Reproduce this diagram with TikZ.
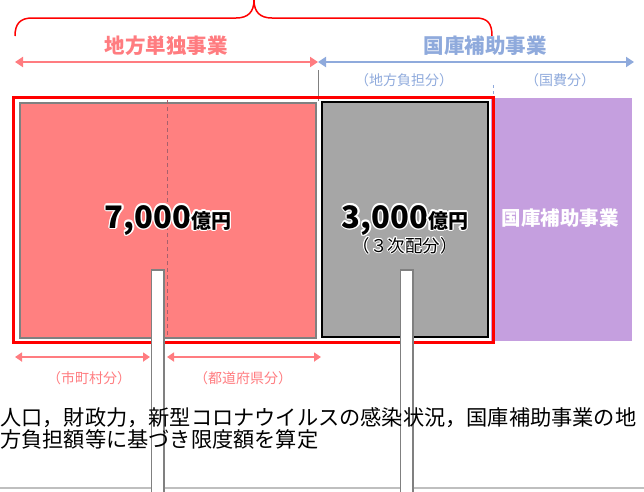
\documentclass[tikz,border=0pt]{standalone}
\usepackage{fontspec}
\setmainfont{Noto Sans CJK JP}
\usepackage{contour}
\contourlength{1.4pt}
\contournumber{12}
\usetikzlibrary{arrows.meta}
\definecolor{tanpink}{HTML}{FF7C80}
\definecolor{hojoblue}{HTML}{8FAADC}
\definecolor{boxpink}{HTML}{FF8080}
\definecolor{boxgray}{HTML}{A6A6A6}
\definecolor{boxpurple}{HTML}{C59FDF}
\definecolor{dashpink}{HTML}{A8606C}
\tikzset{
    dbl/.style = {{Triangle[width=10pt,length=8pt]}-{Triangle[width=10pt,length=8pt]}, line width=2pt},
    dbls/.style = {{Triangle[width=9pt,length=7pt]}-{Triangle[width=9pt,length=7pt]}, line width=1.8pt},
    titlelbl/.style = {font=\fontsize{20.5}{22}\selectfont\bfseries},
    sublbl/.style = {font=\fontsize{14}{15}\selectfont},
    whitebar/.style = {draw=gray, fill=white, line width=1.5pt},
    brace/.style = {draw=red, line width=1.5pt},
}
\newcommand{\bignum}[2]{\contour{white}{\fontsize{31}{33}\selectfont\bfseries #1}\contour{white}{\fontsize{20}{22}\selectfont\bfseries #2}}

\begin{document}
\begin{tikzpicture}[x=1pt,y=-1pt]
  \useasboundingbox (0,0) rectangle (644,491);

  % brace over the whole frame
  \draw[brace] (15,36) .. controls (15,24) and (20,18) .. (32,18) -- (236,18)
     .. controls (248,18) and (254,12) .. (254,0)
     .. controls (254,12) and (260,18) .. (272,18) -- (476,18)
     .. controls (488,18) and (492,24) .. (492,36);

  % headings
  \node[titlelbl, text=tanpink] (tan) at (166,46) {地方単独事業};
  \node[titlelbl, text=hojoblue] (hojo) at (485,46) {国庫補助事業};
  \coordinate (tanL) at (15,62);
  \coordinate (split) at (318,62);
  \coordinate (hojoR) at (634,62);
  \draw[dbl, tanpink] (tanL) -- (split);
  \draw[dbl, hojoblue] (split) -- (hojoR);
  \node[sublbl, text=hojoblue] (chiho) at (404,80) {（地方負担分）};
  \node[sublbl, text=hojoblue] (kokuhi) at (560,80) {（国費分）};

  % dividers
  \coordinate (divT) at (318,70);
  \coordinate (divB) at (318,101);
  \draw[gray, line width=1pt] (divT) -- (divB);
  \coordinate (tickT) at (493,85);
  \coordinate (tickB) at (493,97);
  \draw[hojoblue, line width=1pt, dashed] (tickT) -- (tickB);

  % boxes
  \fill[boxpurple] (491,98) rectangle (632,341);
  \draw[fill=boxpink, draw=gray, line width=2pt] (20,103) rectangle (316,338);
  \draw[dashpink, line width=1pt, dash pattern=on 4pt off 3pt] (167,100) -- (167,338);
  \draw[fill=boxgray, draw=black, line width=1.5pt] (322,102) rectangle (488,337);
  \draw[red, line width=3pt] (13.5,97.5) rectangle (493,342.5);

  \node[text=white, font=\fontsize{19.5}{22}\selectfont\bfseries] (purple) at (560,218) {国庫補助事業};

  % bottom rule and bars
  \draw[gray!50, line width=1.5pt] (0,488) -- (644,488);
  \draw[whitebar] (151.5,270) rectangle (164,495);
  \draw[whitebar] (400.5,270) rectangle (413,495);

  % amounts
  \node[anchor=base] (sum7) at (168,228) {\bignum{7,000}{億円}};
  \node[anchor=base] (sum3) at (405,228) {\bignum{3,000}{億円}};
  \node[font=\fontsize{17.5}{19}\selectfont] (haibun) at (405,246) {\contourlength{0.8pt}\contour{white}{（３次配分）}};

  % municipal / prefectural split
  \coordinate (shiL) at (15,357);
  \coordinate (shiR) at (150,357);
  \coordinate (toL) at (167,357);
  \coordinate (toR) at (321,357);
  \draw[dbls, tanpink] (shiL) -- (shiR);
  \draw[dbls, tanpink] (toL) -- (toR);
  \node[sublbl, text=tanpink] (shi) at (89,378) {（市町村分）};
  \node[sublbl, text=tanpink] (to) at (243,378) {（都道府県分）};

  \node[anchor=north west, inner sep=0pt, align=left, font=\fontsize{21.2}{22.5}\selectfont] (note) at (0,407)
    {人口，財政力，新型コロナウイルスの感染状況，国庫補助事業の地\\方負担額等に基づき限度額を算定};
\end{tikzpicture}
\end{document}
